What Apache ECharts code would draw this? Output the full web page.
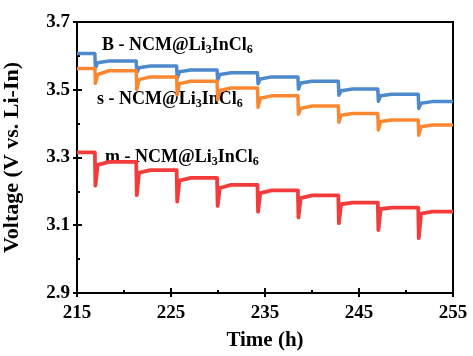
<!DOCTYPE html>
<html><head><meta charset="utf-8">
<script src="https://cdn.jsdelivr.net/npm/echarts@6/dist/echarts.min.js"></script>
<style>html,body{margin:0;padding:0;background:#fff}#c{width:473px;height:356px}</style>
</head><body><div id="c"></div>
<script>
// Time (h) at which each step drop occurs
const dropTimes = [216.9, 221.3, 225.6, 229.9, 234.2, 238.5, 242.8, 247.0, 251.3];
const tStart = 215, tEnd = 255;
// B - NCM@Li3InCl6 (blue)
const bStart = [3.607, 3.580, 3.565, 3.553, 3.545, 3.532, 3.520, 3.497, 3.482, 3.460];
const bEnd   = [3.607, 3.585, 3.570, 3.558, 3.550, 3.538, 3.525, 3.502, 3.487, 3.465];
const bMin   = [3.565, 3.550, 3.533, 3.528, 3.518, 3.502, 3.484, 3.466, 3.445];
// s - NCM@Li3InCl6 (orange)
const sStart = [3.563, 3.545, 3.530, 3.518, 3.498, 3.475, 3.445, 3.425, 3.406, 3.391];
const sEnd   = [3.563, 3.556, 3.538, 3.525, 3.505, 3.482, 3.452, 3.430, 3.411, 3.396];
const sMin   = [3.519, 3.501, 3.485, 3.470, 3.448, 3.428, 3.404, 3.381, 3.366];
// m - NCM@Li3InCl6 (red)
const mStart = [3.315, 3.278, 3.255, 3.232, 3.210, 3.195, 3.180, 3.162, 3.148, 3.134];
const mEnd   = [3.315, 3.287, 3.263, 3.240, 3.219, 3.203, 3.188, 3.167, 3.152, 3.140];
const mMin   = [3.217, 3.189, 3.170, 3.157, 3.140, 3.123, 3.106, 3.086, 3.062];

const xTicks = [215, 225, 235, 245, 255];
const yTicks = [2.9, 3.1, 3.3, 3.5, 3.7];

function build(st, en, mn) {
  const pts = [[tStart, st[0]], [dropTimes[0], en[0]]];
  for (let i = 0; i < dropTimes.length; i++) {
    const d = dropTimes[i];
    const next = i + 1 < dropTimes.length ? dropTimes[i + 1] : tEnd;
    pts.push([d + 0.06, mn[i]]);
    pts.push([d + 0.3, st[i + 1]]);
    pts.push([d + 1.5, en[i + 1]]);
    pts.push([next, en[i + 1]]);
  }
  return pts;
}

const chart = echarts.init(document.getElementById('c'), null, {renderer: 'canvas'});
const font = 'Liberation Serif';
const lblStyle = (color) => ({
  n: {fontFamily: font, fontWeight: 'bold', fontSize: 18, color: color},
  s: {fontFamily: font, fontWeight: 'bold', fontSize: 12, color: color, padding: [10, 0, 0, 0]}
});
const lblText = (p) => '{n|' + p + ' - NCM@Li}{s|3}{n|InCl}{s|6}';

const baseX = {
  type: 'value', min: 215, max: 255, interval: 10,
  axisLine: {show: true, lineStyle: {color: '#000', width: 2}},
  splitLine: {show: false}
};
const baseY = {
  type: 'value', min: 2.9, max: 3.7, interval: 0.2,
  axisLine: {show: true, lineStyle: {color: '#000', width: 2}},
  splitLine: {show: false}
};

chart.setOption({
  animation: false,
  grid: {left: 77, right: 20, top: 22, bottom: 63, show: true, borderColor: '#000', borderWidth: 2,
    containLabel: false, outerBoundsMode: 'none'},
  xAxis: [
    Object.assign({}, baseX, {
      name: 'Time (h)', nameLocation: 'middle', nameGap: 37,
      nameTextStyle: {fontFamily: font, fontWeight: 'bold', fontSize: 21, color: '#000'},
      axisTick: {show: true, inside: true, length: 5, lineStyle: {color: '#000', width: 2}},
      minorTick: {show: true, splitNumber: 2, length: 3, lineStyle: {color: '#000', width: 2}},
      axisLabel: {fontFamily: font, fontWeight: 'bold', fontSize: 19, color: '#000', margin: 11,
        formatter: v => xTicks.includes(v) ? String(v) : ''}
    }),
    Object.assign({}, baseX, {
      position: 'bottom', axisLine: {show: false},
      axisTick: {show: true, inside: false, length: 4, lineStyle: {color: '#000', width: 2}},
      axisLabel: {show: false}
    })
  ],
  yAxis: [
    Object.assign({}, baseY, {
      name: 'Voltage (V vs. Li-In)', nameLocation: 'middle', nameGap: 54,
      nameTextStyle: {fontFamily: font, fontWeight: 'bold', fontSize: 22, color: '#000'},
      axisTick: {show: true, inside: true, length: 5, lineStyle: {color: '#000', width: 2}},
      minorTick: {show: true, splitNumber: 2, length: 3, lineStyle: {color: '#000', width: 2}},
      axisLabel: {fontFamily: font, fontWeight: 'bold', fontSize: 19, color: '#000', margin: 7,
        formatter: v => { const f = yTicks.find(t => Math.abs(t - v) < 1e-6); return f !== undefined ? f.toFixed(1) : ''; }}
    }),
    Object.assign({}, baseY, {
      position: 'left', axisLine: {show: false},
      axisTick: {show: true, inside: false, length: 4, lineStyle: {color: '#000', width: 2}},
      axisLabel: {show: false}
    })
  ],
  series: [
    {type: 'line', name: 'B', data: build(bStart, bEnd, bMin), showSymbol: false, symbol: 'none',
      lineStyle: {color: '#4d89cd', width: 3.5, join: 'round'}},
    {type: 'line', name: 's', data: build(sStart, sEnd, sMin), showSymbol: false, symbol: 'none',
      lineStyle: {color: '#fb8830', width: 3.5, join: 'round'}},
    {type: 'line', name: 'm', data: build(mStart, mEnd, mMin), showSymbol: false, symbol: 'none',
      lineStyle: {color: '#f43b3c', width: 3.8, join: 'round'}}
  ],
  graphic: [
    {type: 'text', left: 102, top: 36, style: {text: lblText('B'), rich: lblStyle('#5a90d0')}},
    {type: 'text', left: 97, top: 90, style: {text: lblText('s'), rich: lblStyle('#f7872e')}},
    {type: 'text', left: 105, top: 148, style: {text: lblText('m'), rich: lblStyle('#f23e3e')}}
  ]
});
</script></body></html>
